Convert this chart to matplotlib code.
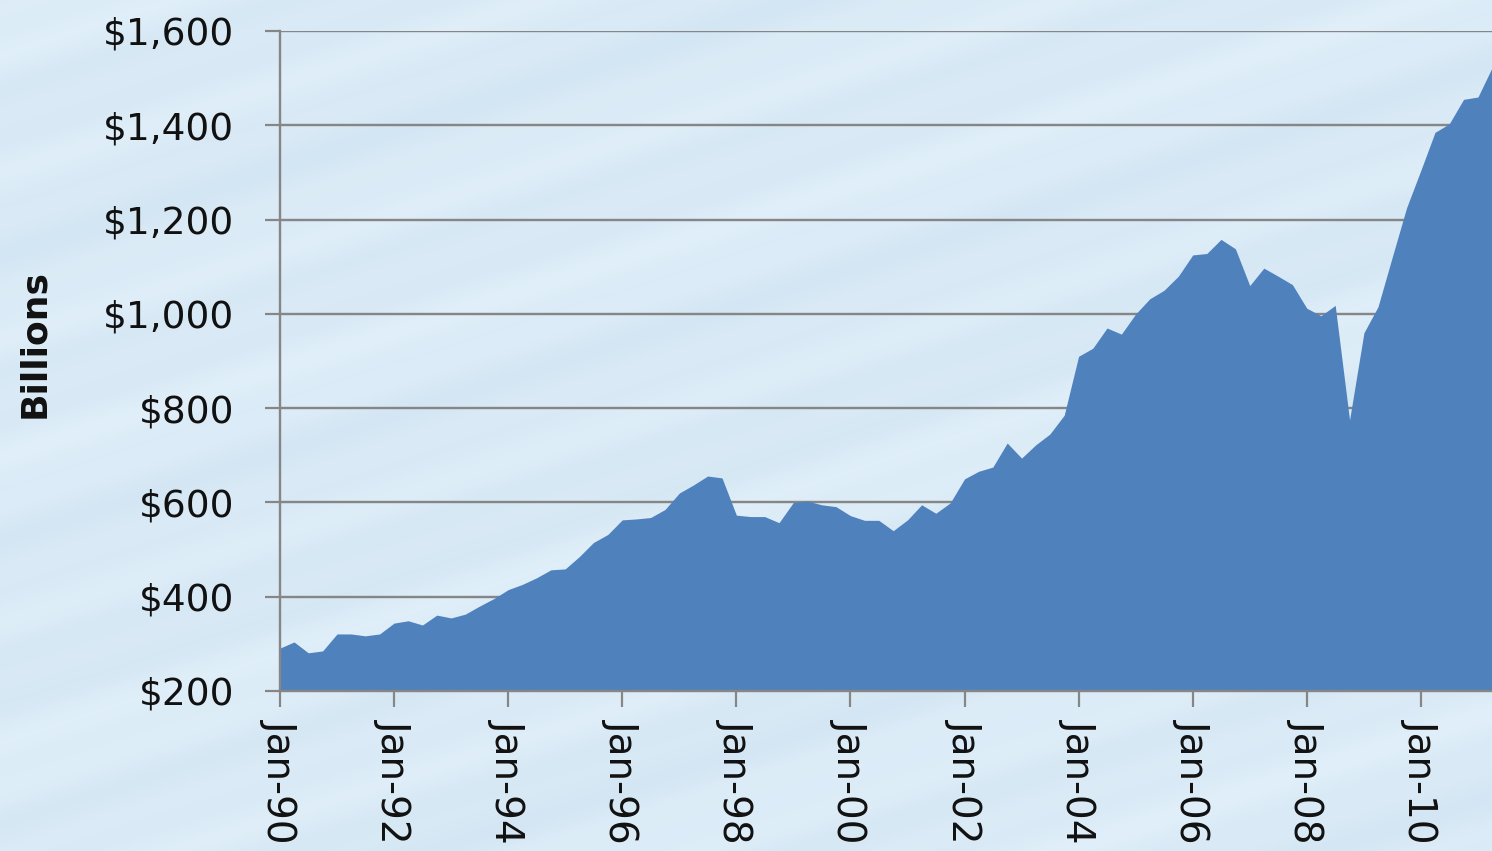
import numpy as np
import pandas as pd
import matplotlib
matplotlib.use("Agg")
from matplotlib import pyplot as plt
import matplotlib.dates as mdates
from matplotlib.ticker import FuncFormatter

# quarterly values, billions of dollars, Jan-90 .. Apr-11
values = [291, 304, 281, 285, 321, 321, 317, 321, 344, 349,
          340, 361, 355, 363, 380, 396, 415, 426, 440, 457,
          459, 485, 515, 532, 563, 565, 568, 585, 620, 637,
          656, 652, 573, 570, 570, 557, 600, 603, 595, 591,
          572, 562, 562, 540, 563, 595, 577, 599, 650, 666,
          675, 726, 694, 722, 745, 785, 910, 927, 970, 957,
          1000, 1032, 1050, 1080, 1125, 1128, 1158, 1138, 1060, 1097,
          1080, 1062, 1012, 996, 1018, 775, 960, 1015, 1120, 1225,
          1305, 1385, 1403, 1455, 1460, 1522]
dates = pd.date_range("1990-01-01", periods=len(values), freq="QS")
y_ticks = [200, 400, 600, 800, 1000, 1200, 1400, 1600]

W, H = 1492, 851
fig = plt.figure(figsize=(W / 100, H / 100), dpi=100)
px = 72 / 100  # pixels -> points

# light blue streaky backdrop
bg = fig.add_axes([0, 0, 1, 1])
yy, xx = np.mgrid[0:H, 0:W]
u = yy + 0.32 * xx
shade = (0.5 + 0.25 * np.sin(u / 23.0) + 0.15 * np.sin(u / 9.0 + 1.3)
         + 0.10 * np.sin(u / 57.0 + 0.4))
base = np.array([0.830, 0.902, 0.955])
light = np.array([0.880, 0.938, 0.978])
img = base + (light - base) * np.clip(shade, 0, 1)[..., None]
bg.imshow(img, aspect="auto", extent=[0, W, H, 0])
bg.axis("off")

left = 280 / W
bottom = 1 - 691 / H
top = 1 - 31 / H
ax = fig.add_axes([left, bottom, 1 - left, top - bottom])
ax.patch.set_alpha(0)

ax.fill_between(dates, values, 200, color="#4f81bd", linewidth=0, zorder=2)

ax.set_ylim(200, 1600)
ax.set_xlim(dates[0], dates[-1])
ax.set_yticks(y_ticks)
ax.yaxis.set_major_formatter(FuncFormatter(lambda v, p: "${:,.0f}".format(v)))
ax.xaxis.set_major_locator(mdates.YearLocator(2, month=1, day=1))
ax.xaxis.set_major_formatter(mdates.DateFormatter("%b-%y"))

ax.grid(axis="y", color="#868686", linewidth=2.4 * px, zorder=1)
ax.set_axisbelow(True)
for s in ["top", "right"]:
    ax.spines[s].set_visible(False)
for s in ["left", "bottom"]:
    ax.spines[s].set_color("#868686")
    ax.spines[s].set_linewidth(2.4 * px)
    ax.spines[s].set_zorder(3)

ax.tick_params(axis="y", length=15 * px, width=2.2 * px, color="#868686",
               pad=31 * px, labelsize=27, labelcolor="#111111")
ax.tick_params(axis="x", length=16 * px, width=2.2 * px, color="#868686",
               pad=12 * px, labelsize=28, labelcolor="#111111",
               labelrotation=-90)
for lab in ax.get_xticklabels():
    lab.set_verticalalignment("top")
    lab.set_horizontalalignment("center")

fig.text(34 / W, 1 - 344 / H, "Billions", rotation=90, ha="center",
         va="center", fontsize=26, fontweight="bold",
         family="DejaVu Sans", color="#111111")

fig.savefig("out.png", dpi=100)
